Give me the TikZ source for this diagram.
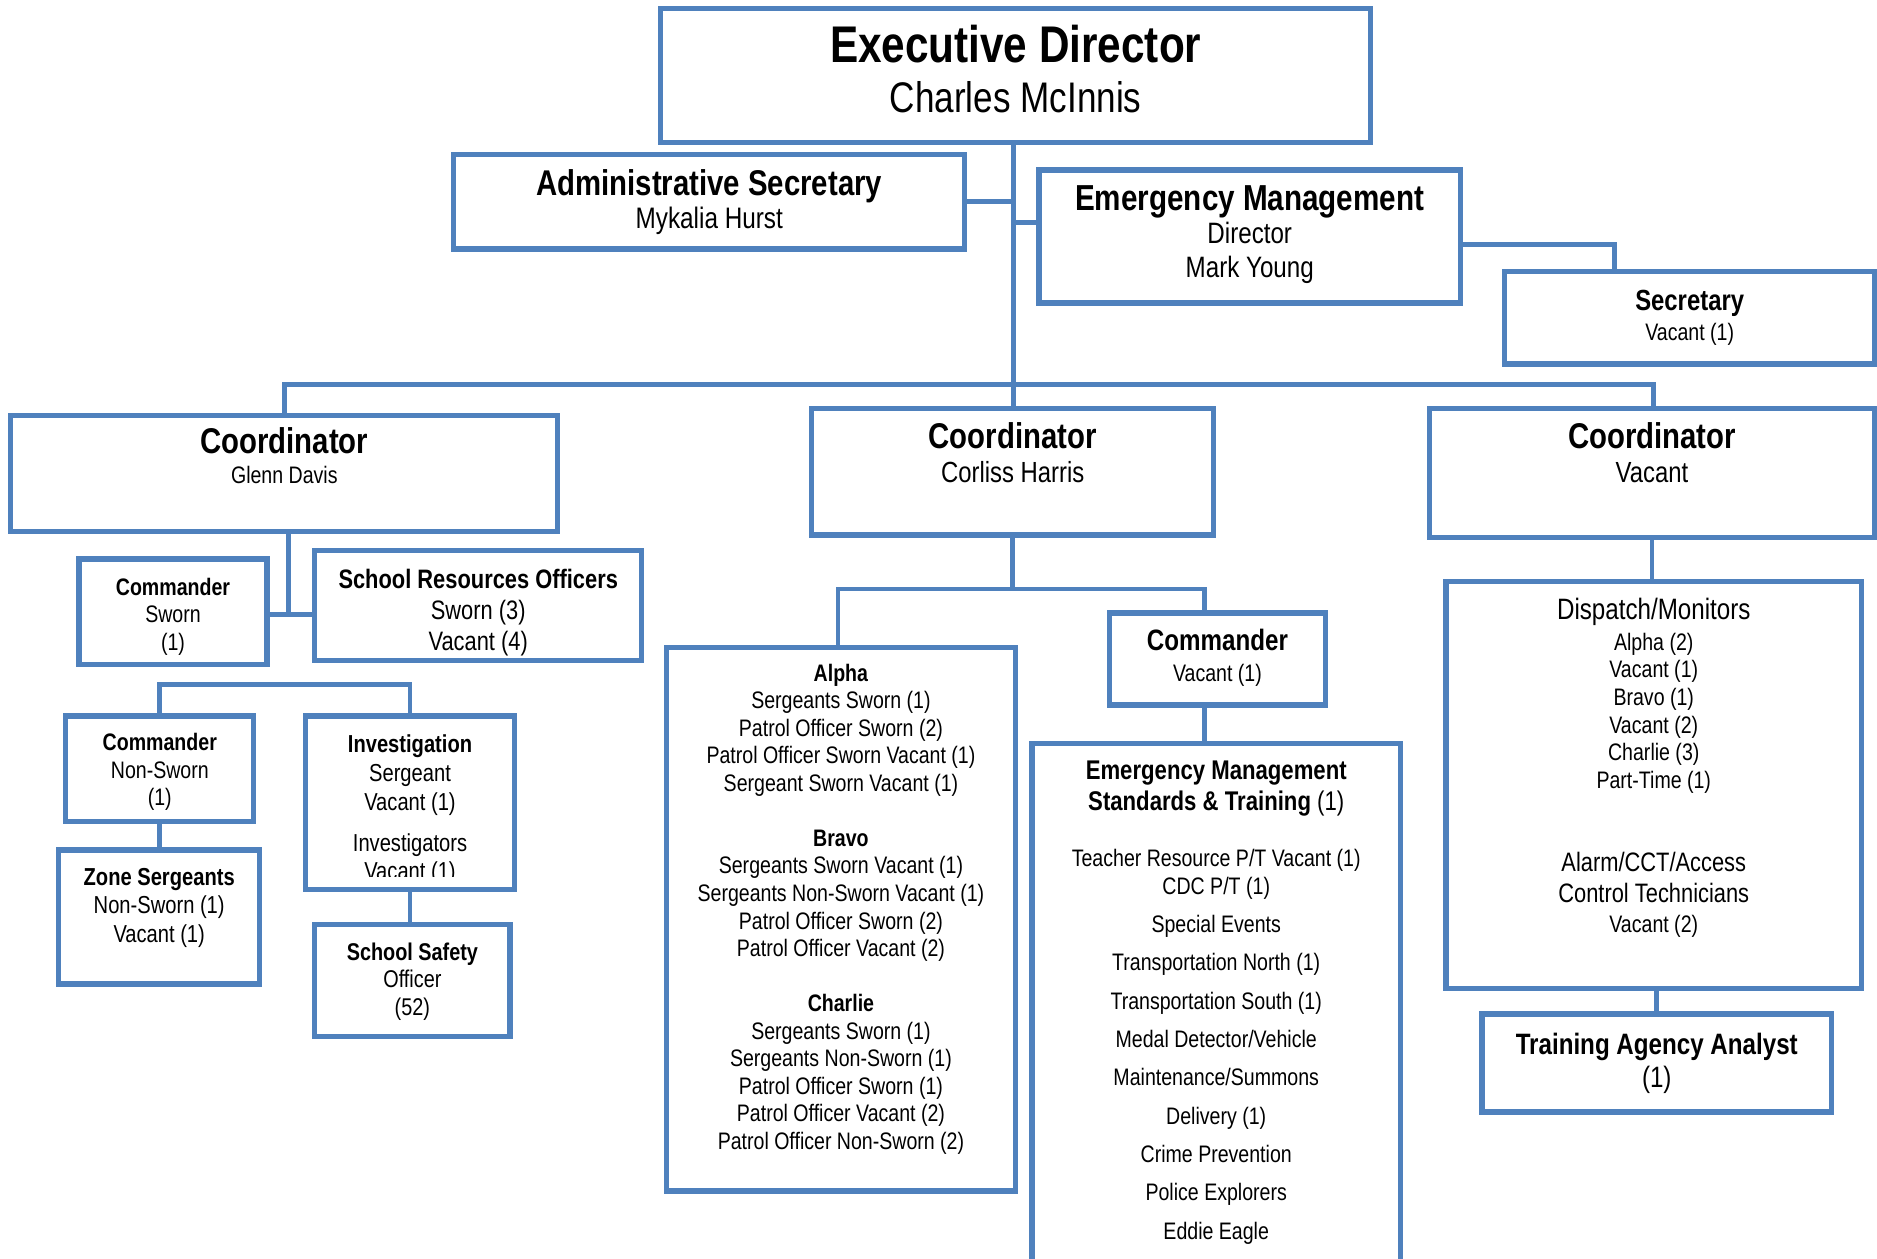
\documentclass[tikz,border=0pt]{standalone}
\usepackage{fontspec}
\setmainfont{Liberation Sans}[FakeStretch=0.82]
\usetikzlibrary{fit}

\definecolor{orgblue}{HTML}{4F81BD}
\newcommand{\setsz}[2]{\fontsize{#1}{#2}\selectfont}
\newcommand{\cellsz}[1]{\fontsize{#1}{#1}\selectfont}

\begin{document}
\begin{tikzpicture}[
  x=0.012cm, y=-0.012cm,
  box/.style={draw=orgblue, line width=1.5pt, inner sep=0pt},
  txt/.style={align=center, anchor=base, inner sep=0pt},
  link/.style={draw=orgblue, line width=1.4pt},
]
\useasboundingbox (0,0) rectangle (1568,1051);
\clip (0,0) rectangle (1568,1051);

% boxes
\node[box, fit={(552,7) (1145,119)}] (exec) {};
\node[box, fit={(379,129) (806,208)}] (admin) {};
\node[box, fit={(868,142) (1220,253)}] (emdir) {};
\node[box, fit={(1257,227) (1566,304)}] (sec) {};
\node[box, fit={(9,347) (466,444)}] (glenn) {};
\node[box, fit={(678,341) (1014,447)}] (corliss) {};
\node[box, fit={(1194,341) (1566,449)}] (coordv) {};
\node[box, fit={(66,467) (223,555)}] (cmdrs) {};
\node[box, fit={(263,460) (536,552)}] (sro) {};
\node[box, fit={(55,598) (212,686)}] (cmdrns) {};
\node[box, fit={(255,598) (430,743)}] (invest) {};
\node[box, fit={(49,710) (217,822)}] (zone) {};
\node[box, fit={(263,772) (426,866)}] (safety) {};
\node[box, fit={(557,541) (848,995)}] (alpha) {};
\node[box, fit={(927,512) (1107,589)}] (cmdrv) {};
\node[box, fit={(862,621) (1170,1060)}] (emstd) {};
\node[box, fit={(1208,486) (1555,826)}] (dispatch) {};
\node[box, fit={(1238,847) (1530,929)}] (training) {};

% texts (base = last line)
\node[txt, font=\setsz{12.2}{14.3}] (exec-txt) at (848.5,94)
  {{\cellsz{14.7}\bfseries Executive Director}\\ Charles McInnis};
\node[txt, font=\setsz{8.45}{9.56}] (admin-txt) at (592.5,190.9)
  {{\cellsz{10.2}\bfseries Administrative Secretary}\\ Mykalia Hurst};
\node[txt, font=\setsz{8.4}{9.56}] (emdir-txt) at (1044,231.8)
  {{\cellsz{10.3}\bfseries Emergency Management}\\ Director\\ Mark Young};
\node[txt, font=\setsz{6.8}{8.5}] (sec-txt) at (1411.5,284.1)
  {{\cellsz{8.3}\bfseries Secretary}\\ Vacant (1)};
\node[txt, font=\setsz{6.8}{8.5}] (glenn-txt) at (237.5,404.1)
  {{\cellsz{10.2}\bfseries Coordinator}\\ Glenn Davis};
\node[txt, font=\setsz{8.3}{9.56}] (corliss-txt) at (846,402.7)
  {{\cellsz{10.2}\bfseries Coordinator}\\ Corliss Harris};
\node[txt, font=\setsz{8.3}{9.56}] (coordv-txt) at (1380,402.7)
  {{\cellsz{10.2}\bfseries Coordinator}\\ Vacant};
\node[txt, font=\setsz{6.8}{7.85}] (cmdrs-txt) at (144.5,543.1)
  {\textbf{Commander}\\ Sworn\\ (1)};
\node[txt, font=\setsz{7.6}{8.7}] (sro-txt) at (399.5,543)
  {\textbf{School Resources Officers}\\ Sworn (3)\\ Vacant (4)};
\node[txt, font=\setsz{6.8}{7.85}] (cmdrns-txt) at (133.5,673.1)
  {\textbf{Commander}\\ Non-Sworn\\ (1)};
\begin{scope}
  % last line runs under the frame
  \clip (257,600) rectangle (428,732.5);
  \node[txt, font=\setsz{7}{8.2}] (invest-txt) at (342.5,735)
    {\textbf{Investigation}\\ Sergeant\\ Vacant (1)\\[3.4pt] Investigators\\ Vacant (1)};
\end{scope}
\node[txt, font=\setsz{7}{8.2}] (zone-txt) at (133,787.4)
  {\textbf{Zone Sergeants}\\ Non-Sworn (1)\\ Vacant (1)};
\node[txt, font=\setsz{6.9}{7.85}] (safety-txt) at (344.5,848.2)
  {\textbf{School Safety}\\ Officer\\ (52)};
\node[txt, font=\setsz{6.8}{7.85}] (alpha-txt) at (702.5,960.1)
  {\textbf{Alpha}\\
   Sergeants Sworn (1)\\
   Patrol Officer Sworn (2)\\
   Patrol Officer Sworn Vacant (1)\\
   Sergeant Sworn Vacant (1)\\[7.85pt]
   \textbf{Bravo}\\
   Sergeants Sworn Vacant (1)\\
   Sergeants Non-Sworn Vacant (1)\\
   Patrol Officer Sworn (2)\\
   Patrol Officer Vacant (2)\\[7.85pt]
   \textbf{Charlie}\\
   Sergeants Sworn (1)\\
   Sergeants Non-Sworn (1)\\
   Patrol Officer Sworn (1)\\
   Patrol Officer Vacant (2)\\
   Patrol Officer Non-Sworn (2)};
\node[txt, font=\setsz{6.8}{8.9}] (cmdrv-txt) at (1017,569.1)
  {{\cellsz{8.4}\bfseries Commander}\\ Vacant (1)};
\node[txt, font=\setsz{6.8}{7.85}] (emstd-txt) at (1016,1035.1)
  {{\cellsz{7.7}\bfseries Emergency Management}\\[1.03pt]
   {\cellsz{7.7}\textbf{Standards \& Training} (1)}\\[8.2pt]
   Teacher Resource P/T Vacant (1)\\
   CDC P/T (1)\\[3.07pt]
   Special Events\\[3.07pt]
   Transportation North (1)\\[3.07pt]
   Transportation South (1)\\[3.07pt]
   Medal Detector/Vehicle\\[3.07pt]
   Maintenance/Summons\\[3.07pt]
   Delivery (1)\\[3.07pt]
   Crime Prevention\\[3.07pt]
   Police Explorers\\[3.07pt]
   Eddie Eagle};
\node[txt, font=\setsz{6.8}{7.85}] (dispatch-txt) at (1381.5,779.2)
  {{\cellsz{8.4}Dispatch/Monitors}\\[1pt]
   Alpha (2)\\ Vacant (1)\\ Bravo (1)\\ Vacant (2)\\ Charlie (3)\\ Part-Time (1)\\[16pt]
   {\cellsz{7.6}Alarm/CCT/Access}\\[1pt]
   {\cellsz{7.6}Control Technicians}\\[0.7pt]
   Vacant (2)};
\node[txt, font=\setsz{8.4}{9.56}] (training-txt) at (1384,908.8)
  {\textbf{Training Agency Analyst}\\ (1)};

% connectors
\coordinate (trunk) at (847,321);
\draw[link] (exec.south -| trunk) -- (trunk);
\draw[link] (admin.east) -- (admin.east -| trunk);
\draw[link] (trunk |- 0,186) -- (emdir.west |- 0,186);
\draw[link] (emdir.east |- 0,204) -| (1349,0 |- sec.north);
\draw[link] (238,0 |- glenn.north) |- (1381,321) -- (1381,0 |- coordv.north);
\draw[link] (trunk) -- (trunk |- corliss.north);
\draw[link] (241,0 |- glenn.south) -- (241,513);
\draw[link] (cmdrs.east |- 0,513) -- (sro.west |- 0,513);
\draw[link] (cmdrns.north) -- ++(0,-24) -| (invest.north);
\draw[link] (cmdrns.south) -- (cmdrns.south |- zone.north);
\draw[link] (invest.south) -- (invest.south |- safety.north);
\draw[link] (corliss.south) -- (corliss.south |- 0,492);
\draw[link] (700,0 |- alpha.north) |- (1006,492) -- (1006,0 |- cmdrv.north);
\draw[link] (1006,0 |- cmdrv.south) -- (1006,0 |- emstd.north);
\draw[link] (coordv.south) -- (coordv.south |- dispatch.north);
\draw[link] (training.north |- dispatch.south) -- (training.north);
\end{tikzpicture}
\end{document}
